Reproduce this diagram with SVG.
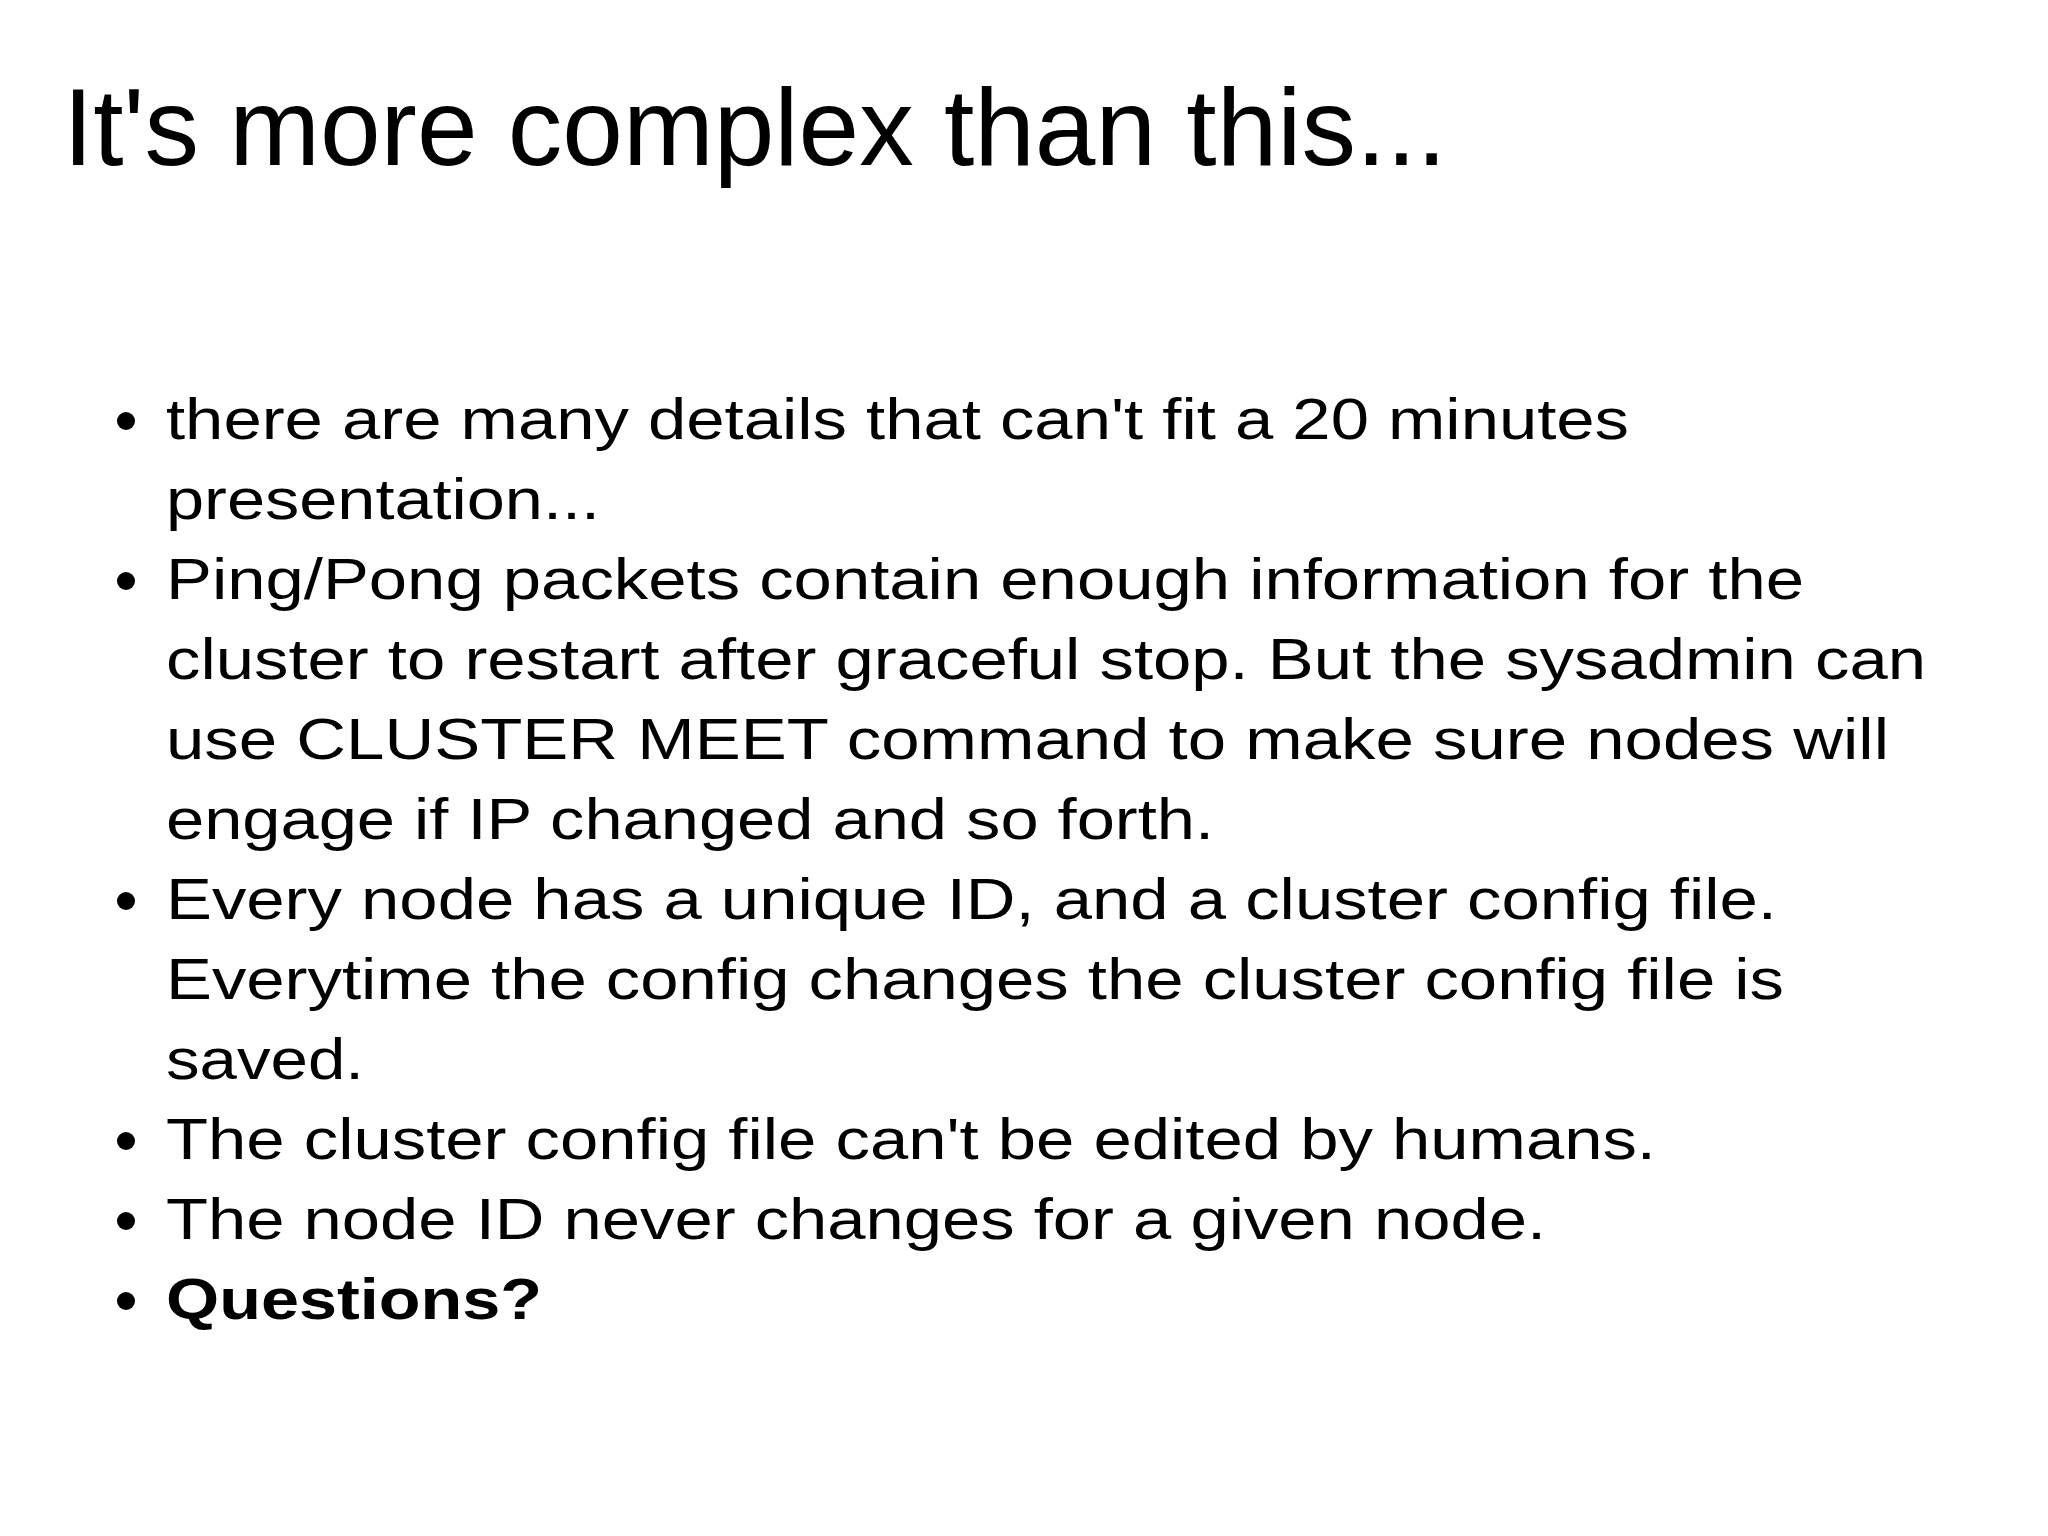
<svg xmlns="http://www.w3.org/2000/svg" width="2048" height="1536" viewBox="0 0 2048 1536">
<style>
.t{font-family:'Liberation Sans',Arial,sans-serif;fill:#000}
</style>
<rect width="2048" height="1536" fill="#fff"/>
<text x="63" y="165" class="t" font-family="Liberation Sans, Arial, sans-serif" font-size="109">It's more complex than this...</text>
<g id="bullets" fill="#000">
<circle cx="126" cy="421" r="9"/>
<circle cx="126" cy="581" r="9"/>
<circle cx="126" cy="901" r="9"/>
<circle cx="126" cy="1141" r="9"/>
<circle cx="126" cy="1221" r="9"/>
<circle cx="126" cy="1301" r="9"/>
</g>
<g id="body" font-family="Liberation Sans, Arial, sans-serif" font-size="58" fill="#000" lengthAdjust="spacingAndGlyphs">
<text x="166" y="439" textLength="1463" lengthAdjust="spacingAndGlyphs">there are many details that can't fit a 20 minutes</text>
<text x="166" y="519" textLength="434" lengthAdjust="spacingAndGlyphs">presentation...</text>
<text x="166" y="599" textLength="1638" lengthAdjust="spacingAndGlyphs">Ping/Pong packets contain enough information for the</text>
<text x="166" y="679" textLength="1760" lengthAdjust="spacingAndGlyphs">cluster to restart after graceful stop. But the sysadmin can</text>
<text x="166" y="759" textLength="1723" lengthAdjust="spacingAndGlyphs">use CLUSTER MEET command to make sure nodes will</text>
<text x="166" y="839" textLength="1048" lengthAdjust="spacingAndGlyphs">engage if IP changed and so forth.</text>
<text x="166" y="919" textLength="1611" lengthAdjust="spacingAndGlyphs">Every node has a unique ID, and a cluster config file.</text>
<text x="166" y="999" textLength="1618" lengthAdjust="spacingAndGlyphs">Everytime the config changes the cluster config file is</text>
<text x="166" y="1079" textLength="198" lengthAdjust="spacingAndGlyphs">saved.</text>
<text x="166" y="1159" textLength="1490" lengthAdjust="spacingAndGlyphs">The cluster config file can't be edited by humans.</text>
<text x="166" y="1239" textLength="1380" lengthAdjust="spacingAndGlyphs">The node ID never changes for a given node.</text>
<text x="166" y="1319" font-weight="bold" textLength="376" lengthAdjust="spacingAndGlyphs">Questions?</text>
</g>
</svg>
